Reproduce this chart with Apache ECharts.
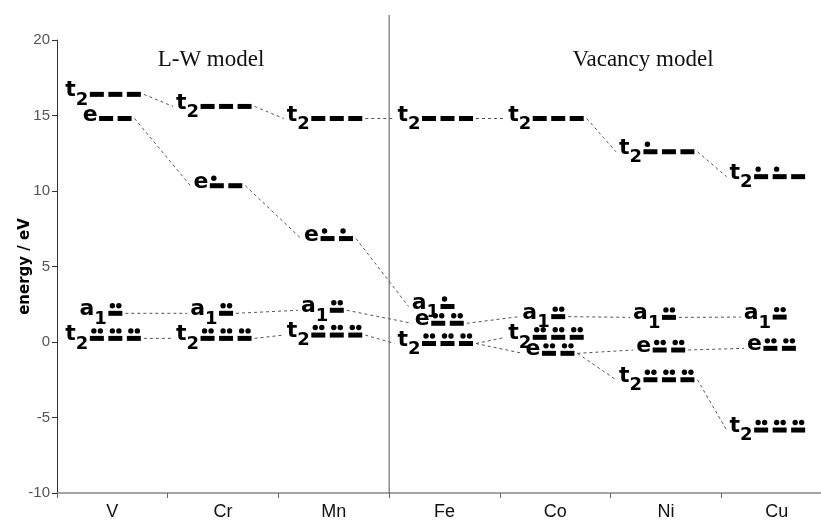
<!DOCTYPE html>
<html><head><meta charset="utf-8">
<script src="https://cdn.jsdelivr.net/npm/echarts@6/dist/echarts.min.js"></script>
<style>html,body{margin:0;padding:0;background:#fff}#c{width:821px;height:520px}</style>
</head><body><div id="c"></div>
<script>
// ---------- data ----------
const metals = ['V', 'Cr', 'Mn', 'Fe', 'Co', 'Ni', 'Cu'];
const yMin = -10, yMax = 20, yStep = 5;
const modelTitles = ['L-W model', 'Vacancy model'];
const dividerBefore = 'Fe';

// level energies in eV (null = level absent) and electron counts
const t2UpperEnergy    = [16.4, 15.6, 14.8, 14.8, 14.8, 12.6, 10.95];
const t2UpperElectrons = [0, 0, 0, 0, 0, 1, 2];
const eUpperEnergy     = [14.8, 10.35, 6.85, null, null, null, null];
const eUpperElectrons  = [0, 1, 2, null, null, null, null];
const a1Energy         = [1.9, 1.9, 2.1, 2.35, 1.68, 1.63, 1.65];
const a1Electrons      = [2, 2, 2, 1, 2, 2, 2];
const eLowerEnergy     = [null, null, null, 1.24, -0.75, -0.53, -0.42];
const eLowerElectrons  = [null, null, null, 4, 4, 4, 4];
const t2LowerEnergy    = [0.24, 0.24, 0.46, -0.1, 0.31, -2.5, -5.83];
const t2LowerElectrons = [6, 6, 6, 6, 6, 6, 6];

// level kinds: symbol, subscript, degeneracy
const kinds = [
  { main: 't', sub: '2', orb: 3 },
  { main: 'e', sub: '', orb: 2 },
  { main: 'a', sub: '1', orb: 1 }
];
const levelSets = {
  t2u: { kind: 0, E: t2UpperEnergy, N: t2UpperElectrons },
  eu:  { kind: 1, E: eUpperEnergy,  N: eUpperElectrons },
  a1:  { kind: 2, E: a1Energy,      N: a1Electrons },
  el:  { kind: 1, E: eLowerEnergy,  N: eLowerElectrons },
  t2l: { kind: 0, E: t2LowerEnergy, N: t2LowerElectrons }
};
// correlation lines: [fromSet, metalIndex, toSet, metalIndex]
const links = [
  ['t2u',0,'t2u',1],['t2u',1,'t2u',2],['t2u',2,'t2u',3],['t2u',3,'t2u',4],['t2u',4,'t2u',5],['t2u',5,'t2u',6],
  ['eu',0,'eu',1],['eu',1,'eu',2],['eu',2,'a1',3],
  ['a1',0,'a1',1],['a1',1,'a1',2],['a1',2,'el',3],['el',3,'a1',4],['a1',4,'a1',5],['a1',5,'a1',6],
  ['t2l',0,'t2l',1],['t2l',1,'t2l',2],['t2l',2,'t2l',3],['t2l',3,'t2l',4],['t2l',3,'el',4],
  ['el',4,'el',5],['el',5,'el',6],['el',4,'t2l',5],['t2l',5,'t2l',6]
];

// ---------- build series data ----------
const levelData = [];
Object.keys(levelSets).forEach(function (k) {
  const s = levelSets[k];
  s.E.forEach(function (en, i) {
    if (en === null) return;
    levelData.push([i, en, kinds[s.kind].orb, s.N[i], s.kind]);
  });
});
const linkData = links.map(function (l) {
  const a = levelSets[l[0]], b = levelSets[l[2]];
  return [l[1], a.E[l[1]], l[3], b.E[l[3]], kinds[a.kind].orb, b.kind, kinds[b.kind].orb];
});

// ---------- style / geometry helpers ----------
const BAR_W = 14, BAR_GAP = 4.5, BAR_H = 5, X_SHIFT = 3, LABEL_GAP = 1.5;
const MAIN_FS = 22, SUB_FS = 18;
const MAIN_BASE = 4, SUB_BASE = 12;
const DOT_R = 2.7, DOT_DY = 7.5;
const MAIN_FONT = 'bold ' + MAIN_FS + 'px "DejaVu Sans"';
const SUB_FONT = 'bold ' + SUB_FS + 'px "DejaVu Sans"';
const mctx = document.createElement('canvas').getContext('2d');
function tw(t, f) { if (!t) return 0; mctx.font = f; return mctx.measureText(t).width; }
function barsWidth(orb) { return orb * BAR_W + (orb - 1) * BAR_GAP; }
function barsLeft(cx, orb) { return cx + X_SHIFT - barsWidth(orb) / 2; }
function barsRight(cx, orb) { return barsLeft(cx, orb) + barsWidth(orb); }
function labelLeft(cx, orb, kindIdx) {
  const k = kinds[kindIdx];
  return barsLeft(cx, orb) - LABEL_GAP - tw(k.sub, SUB_FONT) - tw(k.main, MAIN_FONT);
}

function renderLevel(params, api) {
  const cat = api.value(0), en = api.value(1), orb = api.value(2), ne = api.value(3), k = kinds[api.value(4)];
  const p = api.coord([cat, en]);
  const cx = p[0], cy = p[1];
  const left = barsLeft(cx, orb);
  const ch = [];
  for (let i = 0; i < orb; i++) {
    ch.push({ type: 'rect', shape: { x: left + i * (BAR_W + BAR_GAP), y: cy - BAR_H / 2, width: BAR_W, height: BAR_H }, style: { fill: '#000' } });
  }
  for (let e = 0; e < ne; e++) {
    const bi = e < orb ? e : e - orb;
    const dx = e < orb ? 4 : 10.5;
    ch.push({ type: 'circle', shape: { cx: left + bi * (BAR_W + BAR_GAP) + dx, cy: cy - DOT_DY, r: DOT_R }, style: { fill: '#000' } });
  }
  const subW = tw(k.sub, SUB_FONT);
  if (k.sub) {
    ch.push({ type: 'text', style: { text: k.sub, x: left - LABEL_GAP, y: cy + SUB_BASE - 0.346 * SUB_FS, font: SUB_FONT, fill: '#000', align: 'right', verticalAlign: 'middle' } });
  }
  ch.push({ type: 'text', style: { text: k.main, x: left - LABEL_GAP - subW, y: cy + MAIN_BASE - 0.346 * MAIN_FS, font: MAIN_FONT, fill: '#000', align: 'right', verticalAlign: 'middle' } });
  return { type: 'group', children: ch };
}

function renderLink(params, api) {
  const a = api.coord([api.value(0), api.value(1)]);
  const b = api.coord([api.value(2), api.value(3)]);
  const x1 = barsRight(a[0], api.value(4)) + 3;
  const x2 = labelLeft(b[0], api.value(6), api.value(5)) - 3;
  return { type: 'line', shape: { x1: x1, y1: a[1], x2: x2, y2: b[1] }, style: { stroke: '#555', lineWidth: 1, lineDash: [3, 3] } };
}

function renderDivider(params, api) {
  const idx = api.value(0);
  const x = api.coord([idx, 0])[0] - api.size([1, 0])[0] / 2;
  const yTop = api.coord([idx, yMax])[1] - 25;
  const yBot = api.coord([idx, yMin])[1];
  return { type: 'line', shape: { x1: x, y1: yTop, x2: x, y2: yBot }, style: { stroke: '#555', lineWidth: 1 } };
}

const chart = echarts.init(document.getElementById('c'), null, { renderer: 'canvas' });
chart.setOption({
  animation: false,
  backgroundColor: '#fff',
  grid: { left: 57, top: 40, right: -11, bottom: 27, containLabel: false, outerBoundsMode: 'none' },
  graphic: [
    { type: 'text', x: 211, y: 60, style: { text: modelTitles[0], font: '23px "Liberation Serif"', fill: '#111', align: 'center', verticalAlign: 'middle' } },
    { type: 'text', x: 643, y: 60, style: { text: modelTitles[1], font: '23px "Liberation Serif"', fill: '#111', align: 'center', verticalAlign: 'middle' } }
  ],
  xAxis: {
    type: 'category', data: metals, boundaryGap: true,
    axisLine: { onZero: false, lineStyle: { color: '#888', width: 1.5 } },
    axisTick: { show: true, length: 5, interval: 0, lineStyle: { color: '#666' } },
    axisLabel: { interval: 0, margin: 10, fontSize: 18, color: '#111', fontFamily: 'Liberation Sans' },
    splitLine: { show: false }
  },
  yAxis: {
    type: 'value', min: yMin, max: yMax, interval: yStep,
    name: 'energy / eV', nameLocation: 'middle', nameGap: 24, nameMoveOverlap: false,
    nameTextStyle: { fontWeight: 'bold', fontSize: 15, fontFamily: 'DejaVu Sans', color: '#000' },
    axisLine: { show: true, lineStyle: { color: '#333', width: 1 } },
    axisTick: { show: true, length: 5, lineStyle: { color: '#333' } },
    axisLabel: { margin: 7, fontSize: 15, color: '#555', fontFamily: 'Liberation Sans' },
    splitLine: { show: false }
  },
  series: [
    { type: 'custom', name: 'divider', clip: false, silent: true, data: [[metals.indexOf(dividerBefore)]], encode: { x: 0 }, renderItem: renderDivider, z: 1 },
    { type: 'custom', name: 'links', clip: false, silent: true, data: linkData, encode: { x: [0, 2], y: [1, 3] }, renderItem: renderLink, z: 2 },
    { type: 'custom', name: 'levels', clip: false, silent: true, data: levelData, encode: { x: 0, y: 1 }, renderItem: renderLevel, z: 3 }
  ]
});
</script></body></html>
